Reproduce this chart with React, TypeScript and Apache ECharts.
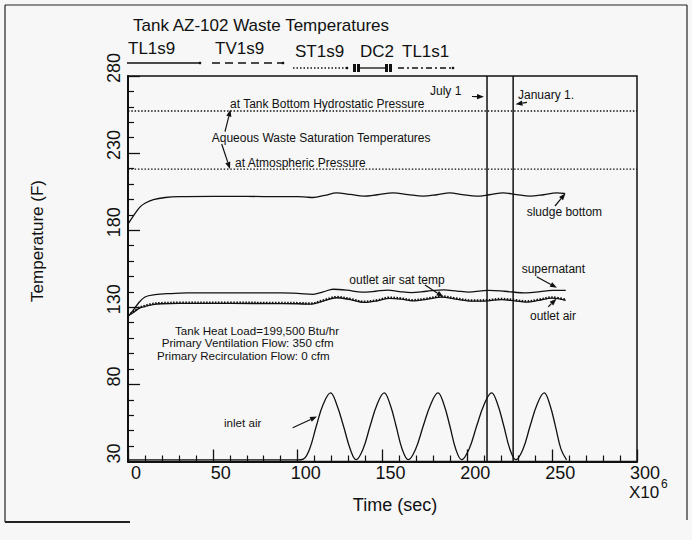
import React, { useEffect, useRef } from "react";
import * as echarts from "echarts";

// ---- Data (time in 10^6 sec, temperature in F) ----
const xTicks = [0, 50, 100, 150, 200, 250, 300];
const yTicks = [30, 80, 130, 180, 230, 280];

const hydroSatTemp = 257.3; // at tank bottom hydrostatic pressure
const atmSatTemp = 219.6; // at atmospheric pressure
const july1 = 211.6;
const jan1 = 227.0;

const sludgeT = [0, 3, 7, 10, 15, 22, 30, 50, 70, 90, 100, 105, 109, 116, 123, 131, 139, 147, 156.3, 165, 174, 182, 189.7, 197, 205.5, 213, 221.2, 229, 236.9, 245, 252.6, 257.5];
const sludgeV = [184, 189, 195, 197.5, 199.8, 201.2, 201.8, 202, 201.9, 201.8, 201.8, 201.5, 201.2, 202.6, 204.2, 203.2, 202.1, 203, 204.2, 203.1, 202.1, 203, 204.2, 203.1, 202.1, 203, 204.2, 203.1, 202.1, 203, 204.2, 203.8];

const superT = [0, 3, 6, 10, 16, 24.7, 35, 60, 90, 100, 109, 115, 121, 129, 138, 146, 153, 160, 167, 176, 186, 194, 201, 208, 213, 222, 235, 243, 250, 258];
const superV = [124, 128, 132.5, 136.7, 138.2, 138.9, 139.3, 139.3, 139.3, 139, 138.4, 140, 141.7, 141.1, 139.8, 140.4, 141.2, 140.2, 139.5, 140.4, 141.3, 140.5, 139.9, 140.6, 141, 140.4, 139.3, 140.2, 141, 141];

const outletT = [0, 3, 6.5, 10, 14.6, 20, 30, 60, 90, 100, 108, 115, 123, 131, 139, 147, 154, 161, 168, 176, 185, 193, 203, 212, 220, 228, 235, 242, 250, 258];
const outletV = [124.5, 126.5, 129.3, 130.5, 131.8, 132.3, 132.5, 132.5, 132.4, 132.3, 132, 134, 136.2, 135, 133.2, 134.2, 135.8, 135.3, 134.2, 135.2, 136.6, 135.3, 134, 134.2, 135, 134.2, 133.4, 134.5, 136, 134.5];

const satT = [0, 3, 6.5, 10, 14.6, 20, 30, 60, 90, 100, 108, 115, 123, 131, 139, 147, 154, 161, 168, 176, 185, 193, 203, 212, 220, 228, 235, 242, 250, 258];
const satV = [125, 127, 129.8, 131, 132.3, 132.8, 133, 133, 132.9, 132.8, 132.5, 134.5, 136.7, 135.5, 133.7, 134.7, 136.3, 135.8, 134.7, 135.7, 137.1, 135.8, 134.5, 134.7, 135.5, 134.7, 133.9, 135, 136.5, 135];

const inletT = [0, 50, 100, 103.3, 107, 111, 115, 119.4, 123, 127, 131, 134.4, 138.5, 142.7, 146.8, 151, 154.5, 158, 161.6, 165.2, 169.5, 174, 178.4, 182.7, 186.2, 189.7, 193.2, 196.6, 201, 205.5, 209.9, 214.3, 217.9, 221.5, 225.1, 228.6, 232.8, 237, 241.1, 245.3, 248.6, 251.9, 255.2, 258.5];
const inletV = [31, 31, 31, 31.5, 38, 53, 67, 74.5, 67, 53, 38, 31.2, 38, 53, 67, 74.5, 67, 53, 38, 31.2, 38, 53, 67, 74.5, 67, 53, 38, 31.2, 38, 53, 67, 74.5, 67, 53, 38, 31.2, 38, 53, 67, 74.5, 67, 53, 38, 31];

const phaseLabels = ["TL1s9", "TV1s9", "ST1s9", "DC2", "TL1s1"];

const INK = "#111";
const FONT = "'Liberation Sans', Arial, Helvetica, sans-serif";

function pairs(t: number[], v: number[]) {
  return t.map((x, i) => [x, v[i]]);
}

function arrow(x1: number, y1: number, x2: number, y2: number) {
  const a = Math.atan2(y2 - y1, x2 - x1);
  const L = 7;
  const W = 2.6;
  const bx = x2 - L * Math.cos(a);
  const by = y2 - L * Math.sin(a);
  const px = -Math.sin(a) * W;
  const py = Math.cos(a) * W;
  return [
    { type: "line", shape: { x1, y1, x2: bx, y2: by }, style: { stroke: INK, lineWidth: 1.2 } },
    {
      type: "polygon",
      shape: { points: [[x2, y2], [bx + px, by + py], [bx - px, by - py]] },
      style: { fill: INK },
    },
  ];
}

function txt(text: string, x: number, y: number, size: number, extra: any = {}) {
  return {
    type: "text",
    x,
    y,
    style: {
      text,
      fill: INK,
      font: `${size}px ${FONT}`,
      textVerticalAlign: "middle",
      verticalAlign: "middle",
      ...extra,
    },
  };
}

export default function App() {
  const ref = useRef<HTMLDivElement>(null);

  useEffect(() => {
    document.body.style.margin = "0";
    if (!ref.current) return;
    const chart = echarts.init(ref.current, null, { renderer: "svg" });

    const lineSeries = (name: string, data: number[][], style: any, smooth: any = 0.35) => ({
      name,
      type: "line",
      data,
      smooth,
      symbol: "none",
      silent: true,
      lineStyle: { color: INK, width: 1.3, ...style },
    });

    const graphic: any[] = [
      // outer scan border
      { type: "line", shape: { x1: 5, y1: 5, x2: 687, y2: 5 }, style: { stroke: "#222", lineWidth: 1.2 } },
      { type: "line", shape: { x1: 5, y1: 5, x2: 5, y2: 522 }, style: { stroke: "#222", lineWidth: 1.2 } },
      { type: "line", shape: { x1: 687, y1: 5, x2: 687, y2: 520 }, style: { stroke: "#222", lineWidth: 1.2 } },
      { type: "line", shape: { x1: 5, y1: 522, x2: 130, y2: 522 }, style: { stroke: "#222", lineWidth: 2 } },
      // title
      txt("Tank AZ-102 Waste Temperatures", 133, 25, 17),
      // phase labels
      txt(phaseLabels[0], 128, 48.5, 17),
      txt(phaseLabels[1], 215, 48.5, 17),
      txt(phaseLabels[2], 295, 51.5, 17),
      txt(phaseLabels[3], 360, 51.5, 17),
      txt(phaseLabels[4], 402, 51.5, 17),
      // phase line samples
      { type: "line", shape: { x1: 127, y1: 63, x2: 200, y2: 63 }, style: { stroke: INK, lineWidth: 1.3 } },
      { type: "line", shape: { x1: 212, y1: 63, x2: 283, y2: 63 }, style: { stroke: INK, lineWidth: 1.3, lineDash: [8, 5] } },
      { type: "line", shape: { x1: 293, y1: 68, x2: 347, y2: 68 }, style: { stroke: INK, lineWidth: 1.3, lineDash: [1.5, 2] } },
      { type: "line", shape: { x1: 357, y1: 68, x2: 388, y2: 68 }, style: { stroke: INK, lineWidth: 1.3 } },
      { type: "rect", shape: { x: 353, y: 64, width: 3, height: 8 }, style: { fill: INK } },
      { type: "rect", shape: { x: 357, y: 64, width: 3, height: 8 }, style: { fill: INK } },
      { type: "rect", shape: { x: 385, y: 64, width: 3, height: 8 }, style: { fill: INK } },
      { type: "rect", shape: { x: 389, y: 64, width: 3, height: 8 }, style: { fill: INK } },
      { type: "line", shape: { x1: 398, y1: 68, x2: 453, y2: 68 }, style: { stroke: INK, lineWidth: 1.3, lineDash: [6, 3, 2, 3] } },
      { type: "circle", shape: { cx: 200, cy: 63, r: 1.3 }, style: { fill: INK } },
      { type: "circle", shape: { cx: 283, cy: 63, r: 1.3 }, style: { fill: INK } },
      { type: "circle", shape: { cx: 347, cy: 68, r: 1.3 }, style: { fill: INK } },
      { type: "circle", shape: { cx: 453, cy: 68, r: 1.3 }, style: { fill: INK } },
      // axis titles
      { ...txt("Temperature (F)", 37, 241, 17, { align: "center", textAlign: "center" }), rotation: Math.PI / 2 },
      txt("Time (sec)", 395, 505, 18, { align: "center", textAlign: "center" }),
      txt("X10", 629, 492, 17),
      txt("6", 661, 484, 12),
      // annotations
      txt("July 1", 430, 90.7, 12),
      ...arrow(472, 96.5, 484, 96.7),
      txt("January 1.", 518, 95, 12),
      ...arrow(527, 102.3, 515.5, 104.3),
      txt("at Tank Bottom Hydrostatic Pressure", 230, 104.3, 12),
      txt("Aqueous Waste Saturation Temperatures", 211.7, 138.3, 12),
      txt("at Atmospheric Pressure", 235, 163.3, 12),
      ...arrow(225, 131.7, 230.5, 109.5),
      ...arrow(221.7, 144, 230, 169),
      txt("sludge bottom", 526.7, 212.3, 12),
      ...arrow(555, 206, 565.5, 193.3),
      txt("supernatant", 521.7, 269, 12),
      ...arrow(536.7, 276.7, 557, 287.8),
      txt("outlet air sat temp", 349.3, 280, 12),
      ...arrow(425, 285, 443.5, 297),
      txt("outlet air", 530, 315.7, 12),
      ...arrow(548.3, 306.7, 556.5, 298.8),
      txt("Tank Heat Load=199,500 Btu/hr", 175, 330, 11.6),
      txt("Primary Ventilation Flow: 350 cfm", 161.7, 342.7, 11.6),
      txt("Primary Recirculation Flow: 0 cfm", 157, 355.7, 11.6),
      txt("inlet air", 224, 422, 11.6),
      ...arrow(292.7, 427.7, 317, 416.5),
    ];

    const option: any = {
      animation: false,
      backgroundColor: "#f6f7f6",
      grid: {
        left: 128,
        top: 76,
        right: 55,
        bottom: 78.5,
        show: true,
        borderColor: INK,
        borderWidth: 1.5,
        backgroundColor: "transparent",
      },
      xAxis: {
        type: "value",
        min: xTicks[0],
        max: xTicks[xTicks.length - 1],
        interval: 50,
        axisLine: { show: true, onZero: false, lineStyle: { color: INK, width: 2 } },
        axisTick: { show: true, inside: true, length: 12, lineStyle: { color: INK, width: 1.3 } },
        minorTick: { show: true, splitNumber: 5, length: 6, lineStyle: { color: INK, width: 1.2 } },
        splitLine: { show: false },
        axisLabel: {
          color: INK,
          fontSize: 18,
          fontFamily: FONT,
          margin: 2,
          padding: [0, 0, 0, 16],
        },
      },
      yAxis: {
        type: "value",
        min: yTicks[0],
        max: yTicks[yTicks.length - 1],
        interval: 50,
        axisLine: { show: true, onZero: false, lineStyle: { color: INK, width: 2 } },
        axisTick: { show: true, inside: true, length: 12, lineStyle: { color: INK, width: 1.3 } },
        minorTick: { show: true, splitNumber: 5, length: 6, lineStyle: { color: INK, width: 1.2 } },
        splitLine: { show: false },
        axisLabel: {
          color: INK,
          fontSize: 18,
          fontFamily: FONT,
          rotate: 90,
          margin: 5,
          padding: [0, 0, 0, 16],
        },
      },
      series: [
        lineSeries("hydrostatic", [[0, hydroSatTemp], [300, hydroSatTemp]], { type: [1.5, 1.8], width: 1.3 }, false),
        lineSeries("atmospheric", [[0, atmSatTemp], [300, atmSatTemp]], { type: [1.5, 1.8], width: 1.3 }, false),
        lineSeries("July 1", [[july1, 30], [july1, 280]], { width: 1.5 }, false),
        lineSeries("January 1", [[jan1, 30], [jan1, 280]], { width: 1.5 }, false),
        lineSeries("sludge bottom", pairs(sludgeT, sludgeV), {}),
        lineSeries("supernatant", pairs(superT, superV), {}),
        lineSeries("outlet air", pairs(outletT, outletV), {}),
        lineSeries("outlet air sat temp", pairs(satT, satV), { type: [1.5, 1.5], width: 2.2 }),
        lineSeries("inlet air", pairs(inletT, inletV), {}, 0.4),
      ],
      graphic,
    };

    chart.setOption(option);
    return () => chart.dispose();
  }, []);

  return <div ref={ref} style={{ width: 692, height: 540 }} />;
}
